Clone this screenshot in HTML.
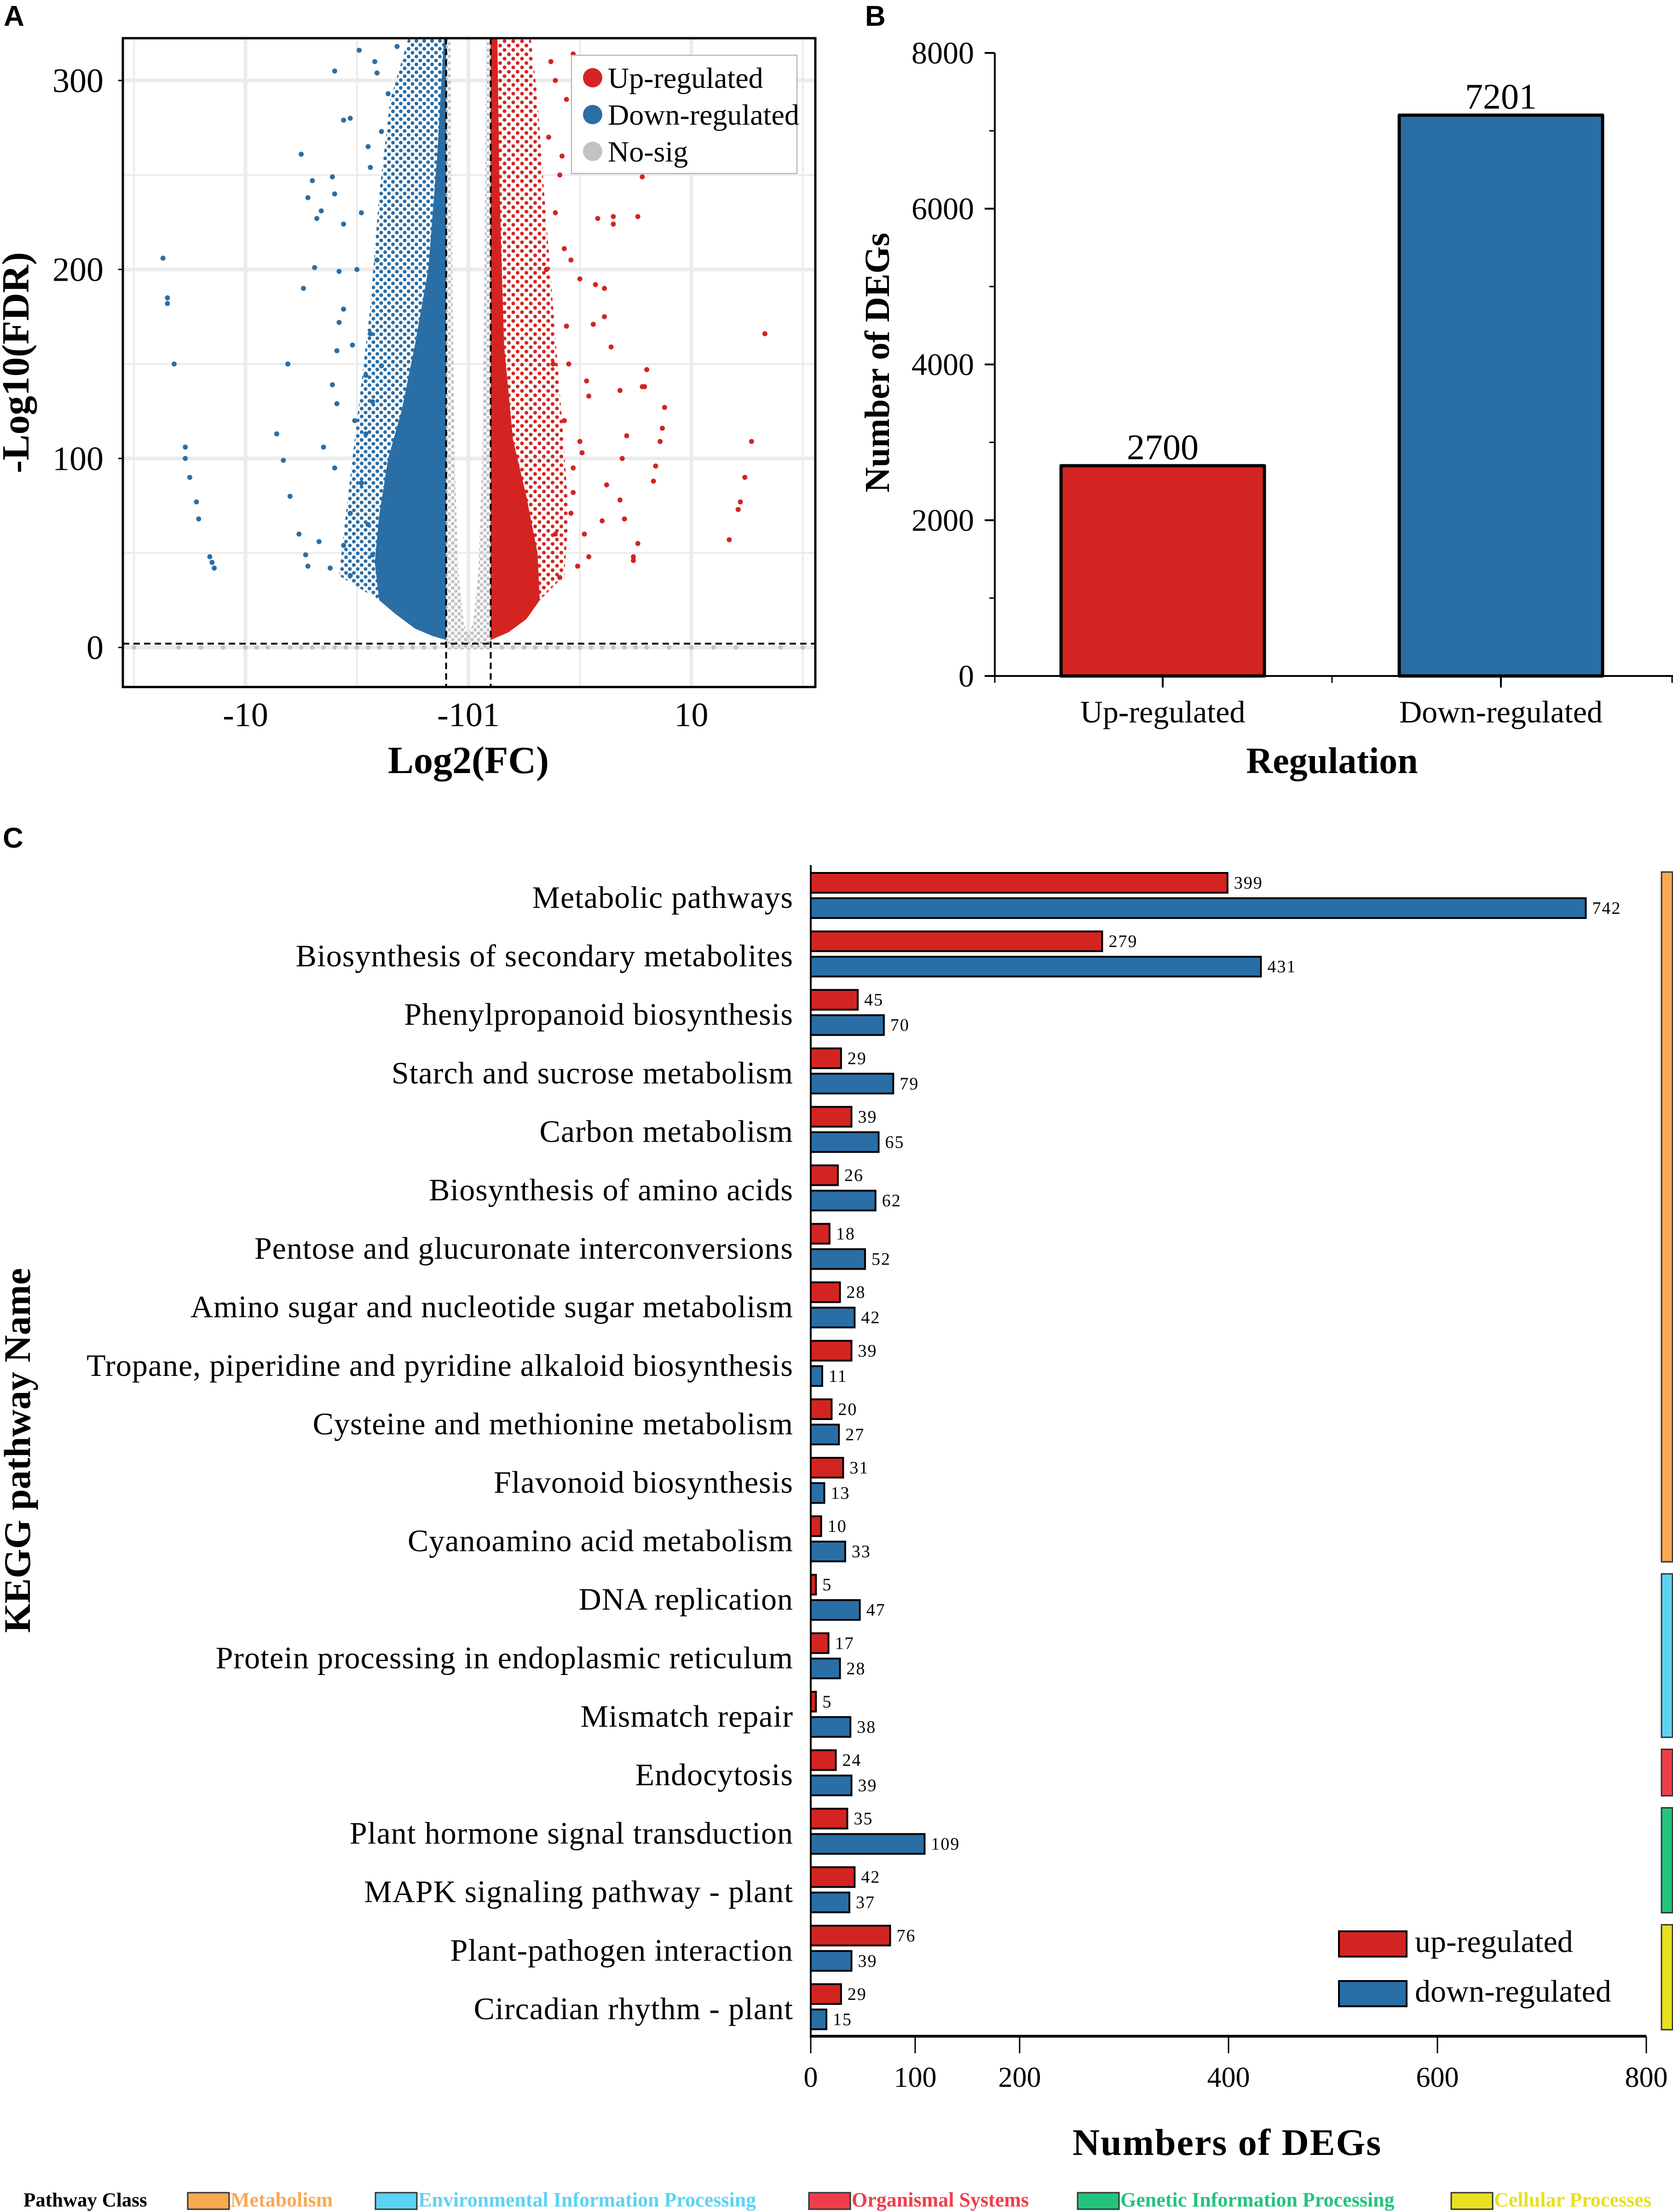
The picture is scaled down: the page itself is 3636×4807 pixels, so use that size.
<!DOCTYPE html>
<html><head><meta charset="utf-8">
<style>
html,body{margin:0;padding:0;background:#fff;}
svg{display:block;font-family:"Liberation Serif",serif;}
</style></head>
<body>
<svg id="fig" xmlns="http://www.w3.org/2000/svg" width="3636" height="4807" viewBox="0 0 3636 4807">
<defs>
<pattern id="dotsBlue" width="17" height="17" patternUnits="userSpaceOnUse"><circle cx="4" cy="4" r="4" fill="#2a6ea6"/><circle cx="12.5" cy="12.5" r="4" fill="#2a6ea6"/></pattern>
<pattern id="dotsRed" width="19" height="19" patternUnits="userSpaceOnUse"><circle cx="4" cy="4" r="4" fill="#d42421"/><circle cx="13.5" cy="13.5" r="4" fill="#d42421"/></pattern>
<pattern id="dotsGrey" width="14" height="14" patternUnits="userSpaceOnUse"><circle cx="4" cy="4" r="4" fill="#c3c3c3"/><circle cx="11" cy="11" r="4" fill="#c3c3c3"/></pattern>
<clipPath id="clipA"><rect x="267" y="83" width="1505" height="1410"/></clipPath>
</defs>
<rect width="3636" height="4807" fill="#fff"/>
<text x="8" y="56" font-family="Liberation Sans, sans-serif" font-weight="bold" font-size="62">A</text>
<text x="1880" y="56" font-family="Liberation Sans, sans-serif" font-weight="bold" font-size="62">B</text>
<text x="6" y="1842" font-family="Liberation Sans, sans-serif" font-weight="bold" font-size="62">C</text>
<g id="gA"></g>
<g id="gB"></g>
<g id="gC"></g>
</svg>
<script>
// ---------- Panel A data (log2FC, -log10FDR) ----------
const volcXTicks = [-10, 0, 10];
const volcXTickLabels = ['-10', '-101', '10'];
const volcYTicks = [0, 100, 200, 300];
const volcUpPts = [[13.3,166],[12.7,109],[12.4,90],[12.2,77],[12.1,73],[11.7,57],[8.8,127],[8.7,116],[8.6,109],[8.4,96],[8.3,88],[8,147],[7.9,138],[7.8,138],[7.3,310],[7.8,249],[7.6,228],[6.5,228],[6.5,224],[5.8,227],[4.7,314],[5.9,253],[4.3,211],[6.1,190],[5.7,192],[5,195],[6.1,175],[5.6,171],[6.4,159],[6.8,136],[7.1,112],[6.9,100],[6.2,86],[6.8,78],[7,68],[6,67],[7.6,55],[7.4,48],[7.4,46],[5.3,141],[5.4,133],[5,109],[5.1,103],[4.7,82],[4.6,71],[5.4,48],[4.9,43],[4.1,37],[4.4,290],[3.9,300],[3.6,270],[4.2,260],[3.9,230],[4.6,205],[3.5,200],[4.4,170],[3.8,150],[4.3,120],[4.7,95],[3.9,60],[5.2,60],[4.5,150],[3.7,310],[4.1,250]];
const volcDownPts = [[-13.7,206],[-13.5,185],[-13.5,182],[-13.2,150],[-12.7,106],[-12.7,100],[-12.5,90],[-12.2,77],[-12.1,68],[-11.6,48],[-11.5,45],[-11.4,42],[-7.5,261],[-7,247],[-6.1,249],[-7.2,238],[-6.6,231],[-6.8,227],[-6,240],[-5.6,279],[-5.3,280],[-6,305],[-4.9,316],[-4.1,304],[-6.9,201],[-7.4,190],[-8.1,150],[-8.6,113],[-8.3,99],[-8,80],[-7.6,60],[-7.3,49],[-7.2,43],[-6.7,56],[-6.2,42],[-5.6,224],[-5.8,199],[-5.6,179],[-5.8,172],[-5.9,157],[-6.1,139],[-5.9,129],[-6.5,106],[-6,95],[-5.3,71],[-5.6,54],[-5.3,38],[-4.5,265],[-4.4,254],[-3.9,273],[-3.6,293],[-4.1,205],[-4.4,166],[-3.9,149],[-4.6,144],[-4.3,130],[-4.6,113],[-4.8,87],[-4.5,65],[-4.3,49],[-5,200],[-4.8,230],[-5.2,160],[-5.1,120],[-4.2,310],[-3.2,318]];
const volcGreyX = [-15,-13,-12,-11,-10,-9.5,-9,-8,-7.5,-7,-6.5,-6,-5.5,-5,-4.5,-4,-3.5,-3,-2.5,-2,-1.5,1.5,2,2.5,3,3.5,4,4.5,5,5.5,6,6.5,7,7.5,8,9,10,11,12,14,15];
const volcBlueDense = [[-1,4],[-1.6,6],[-2.4,10],[-3.3,18],[-4,25],[-4.2,45],[-4,70],[-3.6,100],[-3,125],[-2.4,160],[-1.8,200],[-1.4,260],[-1.1,322],[-1,322]];
const volcBlueSparse = [[-1,4],[-4,25],[-5.8,38],[-5.5,70],[-5,120],[-4.4,180],[-4,240],[-3.5,290],[-2.7,322],[-1,322]];
const volcRedDense = [[1,4],[1.8,8],[2.6,15],[3.2,25],[3.1,50],[2.6,80],[2,110],[1.6,160],[1.4,240],[1.3,322],[1,322]];
const volcRedSparse = [[1,4],[3.2,25],[4.3,38],[4.5,70],[4.2,120],[3.8,180],[3.4,240],[3.1,290],[2.8,322],[1,322]];
const volcGreyZone = [[-1,-1],[1,-1],[1,322],[0.8,322],[0.72,200],[0.62,100],[0.45,40],[0.2,12],[0,8],[-0.2,12],[-0.45,40],[-0.62,100],[-0.72,200],[-0.8,322],[-1,322]];
const volcLegend = ['Up-regulated','Down-regulated','No-sig'];
const volcLegendColors = ['#d42421','#2a6ea6','#c3c3c3'];

// ---------- Panel B data ----------
const degCats = ['Up-regulated','Down-regulated'];
const degVals = [2700, 7201];
const degColors = ['#d42421','#2a6ea6'];
const degYTicks = [0,2000,4000,6000,8000];
const degMinorTicks = [1000,3000,5000,7000];

// ---------- Panel C data ----------
const keggNames = ['Metabolic pathways','Biosynthesis of secondary metabolites','Phenylpropanoid biosynthesis','Starch and sucrose metabolism','Carbon metabolism','Biosynthesis of amino acids','Pentose and glucuronate interconversions','Amino sugar and nucleotide sugar metabolism','Tropane, piperidine and pyridine alkaloid biosynthesis','Cysteine and methionine metabolism','Flavonoid biosynthesis','Cyanoamino acid metabolism','DNA replication','Protein processing in endoplasmic reticulum','Mismatch repair','Endocytosis','Plant hormone signal transduction','MAPK signaling pathway - plant','Plant-pathogen interaction','Circadian rhythm - plant'];
const keggUp = [399,279,45,29,39,26,18,28,39,20,31,10,5,17,5,24,35,42,76,29];
const keggDown = [742,431,70,79,65,62,52,42,11,27,13,33,47,28,38,39,109,37,39,15];
const keggXTicks = [0,100,200,400,600,800];
const classNames = ['Metabolism','Environmental Information Processing','Organismal Systems','Genetic Information Processing','Cellular Processes'];
const classColors = ['#f9a854','#5bd3f4','#ef3e4a','#23c47c','#e8e01e'];
const classFirstRow = [0,12,15,16,18];
const classLastRow = [11,14,15,17,19];

const NS='http://www.w3.org/2000/svg';
function mk(tag, attrs, parent, txt){const e=document.createElementNS(NS,tag);for(const k in attrs)e.setAttribute(k,attrs[k]);if(txt!==undefined)e.textContent=txt;parent.appendChild(e);return e;}

// ===== Panel A =====
(function(){
const g=document.getElementById('gA');
const xA=v=>1018+v*48.45, yA=v=>1407-v*4.107;
const L=267,R=1772,T=83,B=1493;
[-15,-10,-5,0,5,10,15].forEach(v=>{const l=mk('line',{x1:xA(v),x2:xA(v),y1:T,y2:B,stroke:'#ebebeb','stroke-width':(v%10===0)?8:4},g);

});
[-50,0,50,100,150,200,250,300].forEach(v=>{if(yA(v)>B)return;const l=mk('line',{x1:L,x2:R,y1:yA(v),y2:yA(v),stroke:'#ebebeb','stroke-width':(v%100===0)?8:4},g);

});
const pg=mk('g',{'clip-path':'url(#clipA)'},g);


const poly=(pts,fill,name)=>{const p=mk('polygon',{points:pts.map(q=>xA(q[0])+','+yA(q[1])).join(' '),fill:fill},pg);

};
poly(volcGreyZone,'url(#dotsGrey)','no-sig-cloud');
poly(volcBlueSparse,'url(#dotsBlue)','down-regulated-sparse-cloud');
poly(volcRedSparse,'url(#dotsRed)','up-regulated-sparse-cloud');
poly(volcBlueDense,'#2a6ea6','down-regulated-dense-cloud');
poly(volcRedDense,'#d42421','up-regulated-dense-cloud');
volcGreyX.forEach(v=>{const c=mk('circle',{cx:xA(v),cy:yA(0),r:5,fill:'#c3c3c3'},pg);

});
volcDownPts.forEach(p=>{const c=mk('circle',{cx:xA(p[0]),cy:yA(p[1]),r:5.5,fill:'#2a6ea6'},pg);

});
volcUpPts.forEach(p=>{const c=mk('circle',{cx:xA(p[0]),cy:yA(p[1]),r:5.5,fill:'#d42421'},pg);

});
[-1,1].forEach(v=>{const l=mk('line',{x1:xA(v),x2:xA(v),y1:T,y2:B,stroke:'#000','stroke-width':4,'stroke-dasharray':'14,9'},g);

});
const hl=mk('line',{x1:L,x2:R,y1:yA(2),y2:yA(2),stroke:'#000','stroke-width':4,'stroke-dasharray':'14,9'},g);


const fr=mk('rect',{x:L,y:T,width:R-L,height:B-T,fill:'none',stroke:'#000','stroke-width':5},g);


volcYTicks.forEach(v=>{const t=mk('text',{x:225,y:yA(v)+25,'text-anchor':'end','font-size':74},g,String(v));


const k=mk('line',{x1:L-10,x2:L,y1:yA(v),y2:yA(v),stroke:'#000','stroke-width':3},g);

});
volcXTicks.forEach((v,i)=>{const t=mk('text',{x:xA(v),y:1578,'text-anchor':'middle','font-size':74},g,volcXTickLabels[i]);

});
const xt=mk('text',{x:1018,y:1680,'text-anchor':'middle','font-size':84,'font-weight':'bold'},g,'Log2(FC)');


const yt=mk('text',{x:0,y:0,'text-anchor':'middle','font-size':84,'font-weight':'bold',transform:'translate(62,788) rotate(-90)'},g,'-Log10(FDR)');


const lg=mk('g',{},g);


const lb=mk('rect',{x:1242,y:120,width:490,height:257,fill:'#fff',stroke:'#aaa','stroke-width':2},lg);


volcLegend.forEach((n,i)=>{const y=169+i*80;
const c=mk('circle',{cx:1288,cy:y,r:21,fill:volcLegendColors[i]},lg);


const t=mk('text',{x:1321,y:y+22,'font-size':64},lg,n);

});
})();

// ===== Panel B =====
(function(){
const g=document.getElementById('gB');
const yB=v=>1469-v*0.16925;
const X0=2162, cx=[2527,3262], bw=442;
degVals.forEach((v,i)=>{const r=mk('rect',{x:cx[i]-bw/2,y:yB(v),width:bw,height:yB(0)-yB(v),fill:degColors[i],stroke:'#000','stroke-width':7,'stroke-linejoin':'round'},g);


const t=mk('text',{x:cx[i],y:yB(v)-14,'text-anchor':'middle','font-size':78},g,String(v));


const c=mk('text',{x:cx[i],y:1570,'text-anchor':'middle','font-size':68},g,degCats[i]);


const k=mk('line',{x1:cx[i],x2:cx[i],y1:1469,y2:1494,stroke:'#000','stroke-width':4},g);

});
const ya=mk('line',{x1:X0,x2:X0,y1:yB(8000),y2:1471,stroke:'#000','stroke-width':4},g);


const xa=mk('line',{x1:X0-2,x2:3636,y1:1469,y2:1469,stroke:'#000','stroke-width':4},g);


[X0,2895,3634].forEach(x=>{const k=mk('line',{x1:x,x2:x,y1:1469,y2:1484,stroke:'#000','stroke-width':3},g);

});
degYTicks.forEach(v=>{const k=mk('line',{x1:X0-22,x2:X0,y1:yB(v),y2:yB(v),stroke:'#000','stroke-width':4},g);


const t=mk('text',{x:2117,y:yB(v)+23,'text-anchor':'end','font-size':68},g,String(v));

});
degMinorTicks.forEach(v=>{const k=mk('line',{x1:X0-12,x2:X0,y1:yB(v),y2:yB(v),stroke:'#000','stroke-width':3},g);

});
const xt=mk('text',{x:2895,y:1680,'text-anchor':'middle','font-size':80,'font-weight':'bold'},g,'Regulation');


const yt=mk('text',{x:0,y:0,'text-anchor':'middle','font-size':76,'font-weight':'bold',transform:'translate(1932,788) rotate(-90)'},g,'Number of DEGs');


})();

// ===== Panel C =====
(function(){
const g=document.getElementById('gC');
const xC=v=>1762+v*2.27, rowC=i=>1950+i*127.1;
keggNames.forEach((n,i)=>{const c=rowC(i);
const t=mk('text',{x:1724,y:c+23,'text-anchor':'end','font-size':68,'letter-spacing':'1'},g,n);


const u=mk('rect',{x:xC(0),y:c-53,width:xC(keggUp[i])-xC(0),height:43,fill:'#d42421',stroke:'#000','stroke-width':4},g);


const d=mk('rect',{x:xC(0),y:c+2,width:xC(keggDown[i])-xC(0),height:43,fill:'#2a6ea6',stroke:'#000','stroke-width':4},g);


const ut=mk('text',{x:xC(keggUp[i])+14,y:c-19,'font-size':38,'letter-spacing':'2'},g,String(keggUp[i]));


const dt=mk('text',{x:xC(keggDown[i])+14,y:c+36,'font-size':38,'letter-spacing':'2'},g,String(keggDown[i]));

});
const ya=mk('line',{x1:1762,x2:1762,y1:1880,y2:4427,stroke:'#000','stroke-width':4},g);


const xa=mk('line',{x1:1760,x2:xC(800),y1:4425,y2:4425,stroke:'#000','stroke-width':6},g);


keggXTicks.forEach(v=>{const k=mk('line',{x1:xC(v),x2:xC(v),y1:4425,y2:4462,stroke:'#000','stroke-width':3},g);


const t=mk('text',{x:xC(v),y:4535,'text-anchor':'middle','font-size':62},g,String(v));

});
const xt=mk('text',{x:2667,y:4683,'text-anchor':'middle','font-size':82,'font-weight':'bold','letter-spacing':'2'},g,'Numbers of DEGs');


const yt=mk('text',{x:0,y:0,'text-anchor':'middle','font-size':82,'font-weight':'bold',transform:'translate(65,3152) rotate(-90)'},g,'KEGG pathway Name');


[['up-regulated','#d42421',4197],['down-regulated','#2a6ea6',4305]].forEach(e=>{
const r=mk('rect',{x:2910,y:e[2],width:147,height:55,fill:e[1],stroke:'#000','stroke-width':4},g);


const t=mk('text',{x:3075,y:e[2]+45,'font-size':68},g,e[0]);

});
classNames.forEach((n,i)=>{const y1=rowC(classFirstRow[i])-55, y2=rowC(classLastRow[i])+46;
const r=mk('rect',{x:3611,y:y1,width:24,height:y2-y1,fill:classColors[i],stroke:'#333','stroke-width':3},g);

});
const pc=mk('text',{x:51,y:4795,'font-size':43,'font-weight':'bold'},g,'Pathway Class');


const lx=[408,816,1758,2342,3154];
classNames.forEach((n,i)=>{
const r=mk('rect',{x:lx[i],y:4765,width:90,height:36,fill:classColors[i],stroke:'#333','stroke-width':3},g);


const t=mk('text',{x:lx[i]+93,y:4795,'font-size':44,'font-weight':'bold',fill:classColors[i]},g,n);

});
})();
</script>
</body></html>
